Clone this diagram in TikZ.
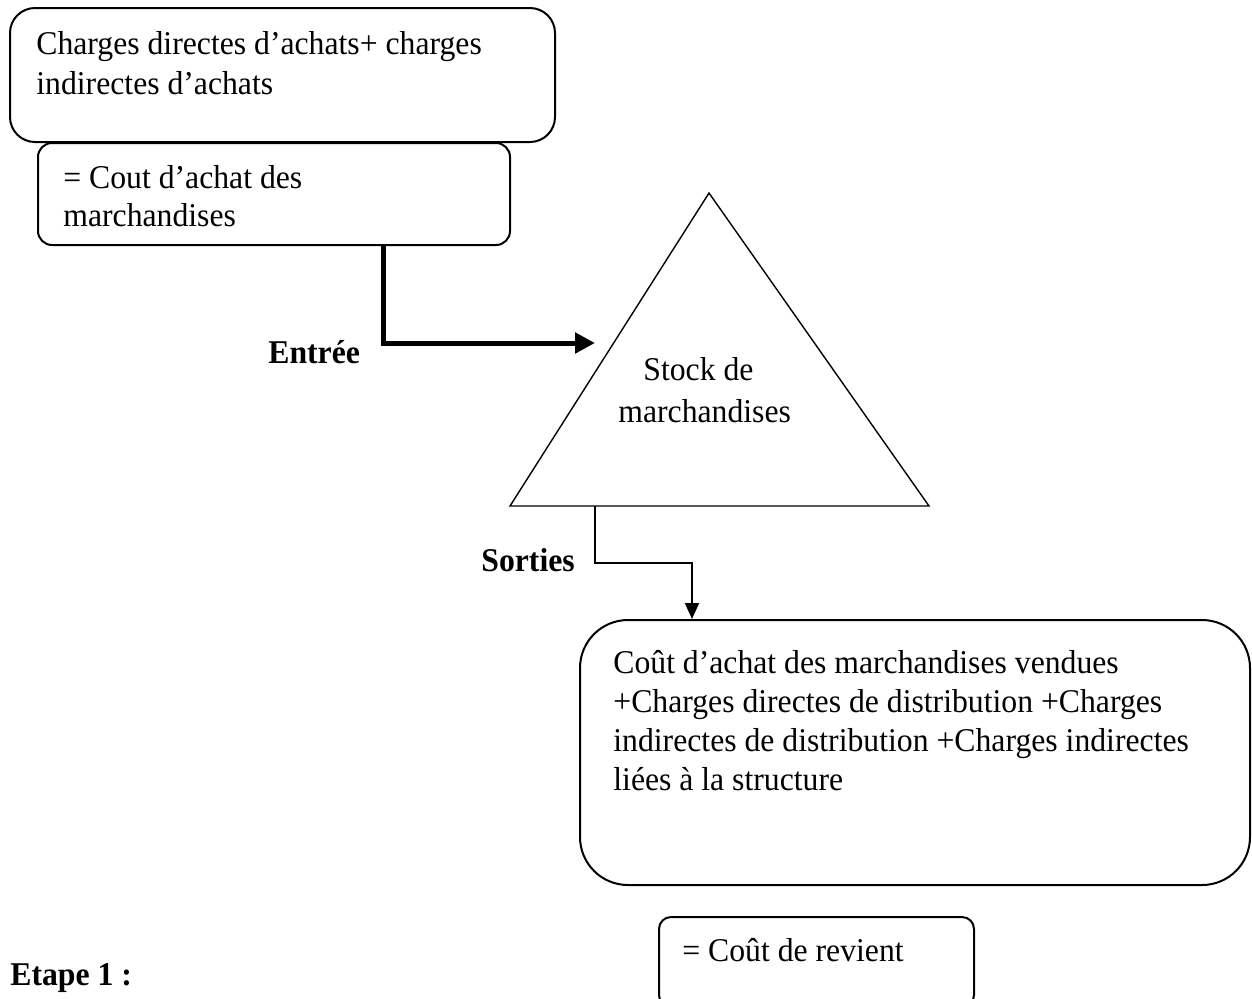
\documentclass[tikz,border=0pt]{standalone}
\usepackage{fontspec}
\setmainfont[FakeStretch=0.955]{Liberation Serif}
\usetikzlibrary{arrows.meta}
\tikzset{
  box/.style={draw, line width=1pt, inner sep=0pt},
  txt/.style={anchor=base west, inner sep=0pt, font=\fontsize{16.6pt}{19.5pt}\selectfont},
  btxt/.style={txt, font=\fontsize{16.6pt}{19.5pt}\selectfont\bfseries},
}
\begin{document}
\begin{tikzpicture}[x=0.5pt,y=-0.5pt]
\useasboundingbox (0,0) rectangle (1252,998);
% boxes
\node[box, rounded corners=12.5pt, minimum width=272.5pt, minimum height=67pt] (b1) at (282.5,75) {};
\node[box, rounded corners=7pt, minimum width=236pt, minimum height=51pt] (b2) at (274,194) {};
\node[box, rounded corners=24pt, minimum width=335pt, minimum height=132.5pt] (b3) at (915,752.5) {};
\node[box, rounded corners=6pt, minimum width=157.5pt, minimum height=45pt] (b4) at (816.5,962) {};
% triangle
\coordinate (tA) at (709,193);
\coordinate (tL) at (510,506);
\coordinate (tR) at (929,506);
\draw[line width=0.7pt] (tA) -- (tL) -- (tR) -- cycle;
% texts
\node[txt] (t1a) at (36,54) {Charges directes d’achats+ charges};
\node[txt] (t1b) at (36,94) {indirectes d’achats};
\node[txt] (t2a) at (63,188) {= Cout d’achat des};
\node[txt] (t2b) at (63,226) {marchandises};
\node[txt] (ts1) at (643,380) {Stock de};
\node[txt] (ts2) at (618,422) {marchandises};
\node[txt] (t3a) at (613,673) {Coût d’achat des marchandises vendues};
\node[txt] (t3b) at (613,712) {+Charges directes de distribution +Charges};
\node[txt] (t3c) at (613,751) {indirectes de distribution +Charges indirectes};
\node[txt] (t3d) at (613,790) {liées à la structure};
\node[txt] (t4) at (682,961) {= Coût de revient};
\node[btxt] (le) at (268,363) {Entrée};
\node[btxt] (ls) at (481,571) {Sorties};
\node[btxt] (et) at (10,985) {Etape 1 :};
% connectors
\coordinate (etip) at (595,343);
\draw[line width=2.5pt, -{Triangle[length=10pt,width=10pt]}] ([xshift=54.5pt]b2.south) |- (etip);
\draw[line width=1pt, -{Triangle[length=8pt,width=7pt]}] ([xshift=42.5pt]tL) -- ++(0,57) -| ([xshift=-111.5pt]b3.north);
\end{tikzpicture}
\end{document}
